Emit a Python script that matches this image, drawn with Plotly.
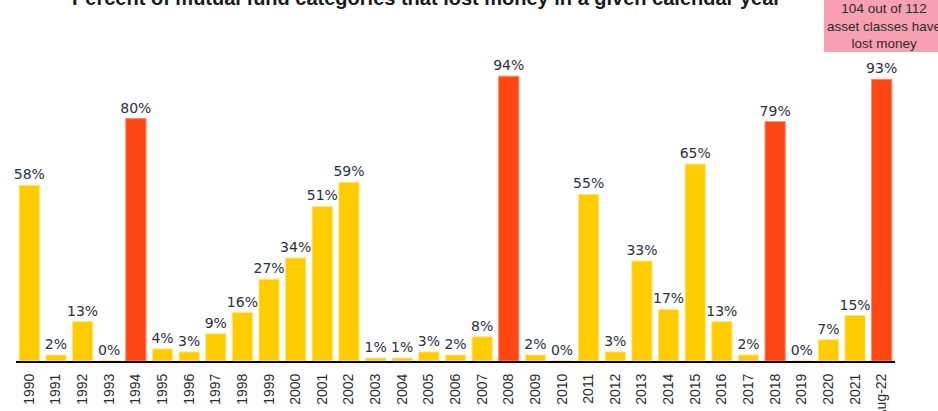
import plotly.graph_objects as go

categories = ["1990","1991","1992","1993","1994","1995","1996","1997","1998","1999",
              "2000","2001","2002","2003","2004","2005","2006","2007","2008","2009",
              "2010","2011","2012","2013","2014","2015","2016","2017","2018","2019",
              "2020","2021","Aug-22"]
values = [58, 2, 13, 0, 80, 4, 3, 9, 16, 27,
          34, 51, 59, 1, 1, 3, 2, 8, 94, 2,
          0, 55, 3, 33, 17, 65, 13, 2, 79, 0,
          7, 15, 93]
highlight = ["1994", "2008", "2018", "Aug-22"]

YELLOW = "#FFCC00"
RED = "#FF4713"
colors = [RED if c in highlight else YELLOW for c in categories]
border = ["#FF8A66" if c in highlight else "#FFE680" for c in categories]

W, H = 938, 411
L, R, T, B = 16, 43, 58, 50
pw, ph = W - L - R, H - T - B

def px_x(x):
    return (x - L) / pw

def px_y(y):
    return (H - B - y) / ph

fig = go.Figure()
fig.add_trace(go.Bar(
    x=categories, y=values,
    marker=dict(color=colors, line=dict(color=border, width=1)),
    text=[f"{v}%" for v in values],
    textposition="outside",
    constraintext="none",
    textfont=dict(family="DejaVu Sans", size=14, color="#2B3040"),
    cliponaxis=False,
    hoverinfo="skip",
))

fig.update_layout(
    width=W, height=H,
    margin=dict(l=L, r=R, t=T, b=B, autoexpand=False),
    plot_bgcolor="white", paper_bgcolor="white",
    bargap=0.24,
    showlegend=False,
    xaxis=dict(
        type="category", tickangle=-90, showgrid=False,
        showline=True, linecolor="black", linewidth=2,
        ticks="", automargin=False, ticklabelstandoff=5,
        tickfont=dict(family="Liberation Sans", size=14, color="#2B2B33"),
    ),
    yaxis=dict(range=[0, 100], visible=False, automargin=False),
)

# Title (partially cut off at the top)
fig.add_annotation(
    text="<b>Percent of mutual fund categories that lost money in a given calendar year</b>",
    xref="paper", yref="paper", x=px_x(426), y=px_y(11),
    xanchor="center", yanchor="bottom", showarrow=False,
    font=dict(family="Liberation Sans", size=20, color="#1A1A1A"),
)

# Pink callout box
fig.add_shape(
    type="rect", xref="paper", yref="paper",
    x0=px_x(824), x1=px_x(945), y0=px_y(52), y1=px_y(-5),
    fillcolor="#F8A0B2", line=dict(width=0), layer="below",
)
fig.add_annotation(
    text="104 out of 112<br>asset classes have<br>lost money",
    xref="paper", yref="paper", x=px_x(884), y=px_y(26),
    xanchor="center", yanchor="middle", showarrow=False,
    font=dict(family="Liberation Sans", size=13.5, color="#2B2B2B"),
)

fig.write_html(
    "out.html",
    config={"displayModeBar": False},
    post_script="document.body.style.margin='0';document.body.style.overflow='hidden';",
)
